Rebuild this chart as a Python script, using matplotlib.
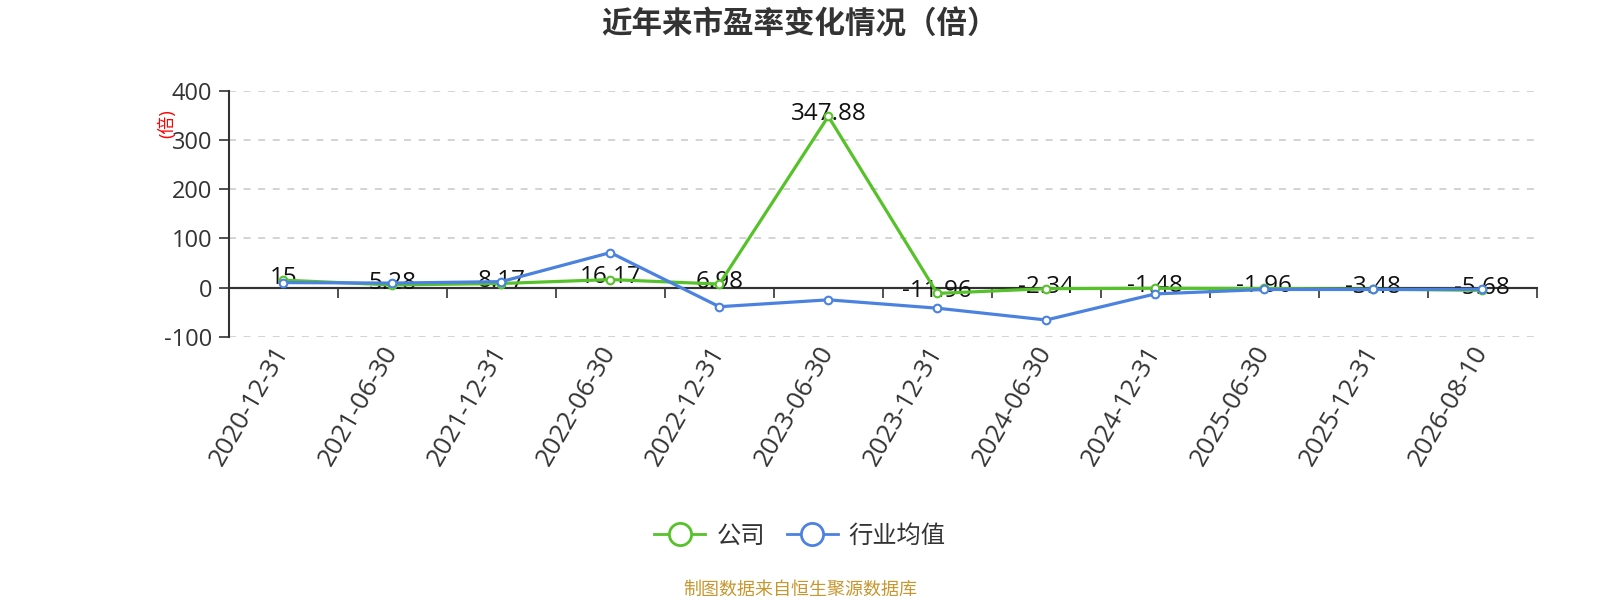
import matplotlib
matplotlib.use('Agg')
import matplotlib.pyplot as plt
from matplotlib.lines import Line2D
import numpy as np

plt.rcParams['font.family'] = ['Open Sans', 'Noto Sans CJK SC', 'DejaVu Sans']
plt.rcParams['axes.unicode_minus'] = False
plt.rcParams['lines.scale_dashes'] = False

# data
dates = ['2020-12-31', '2021-06-30', '2021-12-31', '2022-06-30',
         '2022-12-31', '2023-06-30', '2023-12-31', '2024-06-30',
         '2024-12-31', '2025-06-30', '2025-12-31', '2026-08-10']
company = [15, 5.28, 8.17, 16.17, 6.98, 347.88, -11.96, -2.34,
           -1.48, -1.96, -3.48, -5.68]
industry = [10, 9, 12, 71, -39, -25, -42, -66, -13, -4, -4, -3.5]
yticks = [-100, 0, 100, 200, 300, 400]
series_names = ['公司', '行业均值']

GREEN = '#56c22a'
BLUE = '#4b82e0'
DARK = '#333333'

fig = plt.figure(figsize=(16, 6), dpi=100)
ax = fig.add_axes([0.1431, 0.4388, 0.8173, 0.41])

x = np.arange(len(dates))
ax.plot(x, company, color=GREEN, lw=2.3, marker='o', ms=5.5,
        mfc='white', mec=GREEN, mew=1.5, zorder=4)
ax.plot(x, industry, color=BLUE, lw=2.3, marker='o', ms=5.5,
        mfc='white', mec=BLUE, mew=1.5, zorder=5)

for xi, v in zip(x, company):
    ax.annotate(f'{v:g}', (xi, v), xytext=(0, 1.5), textcoords='offset points',
                ha='center', va='center', fontsize=17.5, color='#111111', zorder=3)

ax.set_xlim(-0.5, len(dates) - 0.5)
ax.set_ylim(yticks[0], yticks[-1])
ax.set_yticks(yticks)
ax.set_xticks(x)
ax.set_xticklabels(dates, rotation=60, ha='right', va='center',
                   rotation_mode='anchor')
ax.tick_params(axis='x', length=0, pad=8, labelsize=18.5, labelcolor=DARK)
ax.tick_params(axis='y', length=7, width=1.2, color=DARK, pad=5,
               labelsize=17, labelcolor=DARK)

ax.yaxis.grid(True, color='#cccccc', lw=1.2, linestyle=(0, (5, 5.5)))
ax.set_axisbelow(True)
for side in ['top', 'right', 'bottom']:
    ax.spines[side].set_visible(False)
ax.spines['left'].set_color(DARK)
ax.spines['left'].set_linewidth(1.5)

# category axis line sits on y = 0, ticks between categories
ax.axhline(0, color=DARK, lw=1.5, zorder=2)
zero_frac = (0 - yticks[0]) / (yticks[-1] - yticks[0])
sec = ax.secondary_xaxis(zero_frac)
sec.set_xticks(np.arange(-0.5, len(dates), 1))
sec.set_xticklabels([])
sec.tick_params(length=7, width=1.2, color=DARK, direction='out')
for sp in sec.spines.values():
    sp.set_color(DARK)
    sp.set_linewidth(1.5)

ax.text(-0.0476, 0.865, '(倍)', transform=ax.transAxes, rotation=90,
        color='red', fontsize=13, ha='center', va='center')

fig.text(0.5, 0.958, '近年来市盈率变化情况（倍）', ha='center', va='center',
         fontsize=22, fontweight='bold', color=DARK)

handles = [Line2D([], [], color=GREEN, lw=2, marker='o', ms=16,
                  mfc='white', mec=GREEN, mew=2),
           Line2D([], [], color=BLUE, lw=2, marker='o', ms=16,
                  mfc='white', mec=BLUE, mew=2)]
fig.legend(handles, series_names, loc='center', bbox_to_anchor=(0.5, 0.105),
           ncol=2, frameon=False, fontsize=17.5, handlelength=2.1,
           handletextpad=0.45, columnspacing=0.9, labelcolor=DARK)

fig.text(0.5, 0.017, '制图数据来自恒生聚源数据库', ha='center', va='center',
         fontsize=13, color='#c8962e')

fig.savefig('out.png', dpi=100)
